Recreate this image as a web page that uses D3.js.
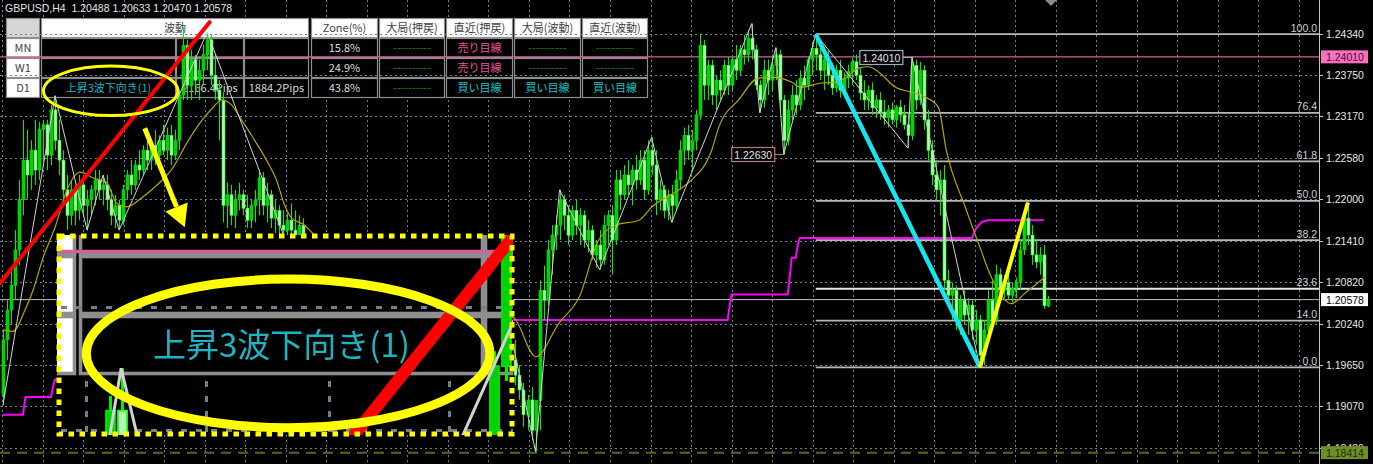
<!DOCTYPE html>
<html><head><meta charset="utf-8">
<script src="https://cdn.jsdelivr.net/npm/d3@7"></script>
<style>html,body{margin:0;padding:0;background:#000;overflow:hidden}</style>
</head><body>
<svg id="c" width="1373" height="464"></svg>
<script>
// ---------------- DATA ----------------
const symbol = "GBPUSD,H4";
// H4 candles [open, high, low, close]
const ohlc = [
[1.1923,1.2015,1.1909,1.2001],[1.2001,1.2057,1.1972,1.2043],[1.2043,1.2100,1.2022,1.2078],[1.2078,1.2156,1.2057,1.2128],
[1.2128,1.2227,1.2106,1.2199],[1.2199,1.2312,1.2177,1.2255],[1.2255,1.2298,1.2199,1.2234],[1.2234,1.2283,1.2213,1.2269],
[1.2269,1.2312,1.2220,1.2241],[1.2241,1.2309,1.2227,1.2298],[1.2298,1.2312,1.2255,1.2305],[1.2305,1.2312,1.2241,1.2262],
[1.2262,1.2333,1.2248,1.2326],[1.2326,1.2346,1.2269,1.2283],[1.2283,1.2312,1.2234,1.2255],[1.2255,1.2269,1.2199,1.2213],
[1.2213,1.2234,1.2156,1.2177],[1.2177,1.2227,1.2163,1.2213],[1.2213,1.2220,1.2163,1.2184],[1.2184,1.2234,1.2170,1.2220],
[1.2220,1.2227,1.2177,1.2191],[1.2191,1.2213,1.2156,1.2199],[1.2199,1.2220,1.2177,1.2213],[1.2213,1.2241,1.2191,1.2227],
[1.2227,1.2241,1.2199,1.2213],[1.2213,1.2234,1.2191,1.2220],[1.2220,1.2234,1.2184,1.2199],[1.2199,1.2213,1.2163,1.2177],
[1.2177,1.2206,1.2159,1.2191],[1.2191,1.2199,1.2156,1.2170],[1.2170,1.2220,1.2163,1.2213],[1.2213,1.2241,1.2199,1.2234],
[1.2234,1.2255,1.2206,1.2220],[1.2220,1.2255,1.2213,1.2248],[1.2248,1.2269,1.2227,1.2241],[1.2241,1.2276,1.2234,1.2269],
[1.2269,1.2283,1.2241,1.2255],[1.2255,1.2283,1.2241,1.2276],[1.2276,1.2298,1.2248,1.2262],[1.2262,1.2290,1.2255,1.2283],
[1.2283,1.2305,1.2262,1.2269],[1.2269,1.2301,1.2255,1.2290],[1.2290,1.2305,1.2248,1.2262],[1.2262,1.2298,1.2255,1.2283],
[1.2283,1.2354,1.2269,1.2347],[1.2347,1.2443,1.2340,1.2417],[1.2417,1.2425,1.2340,1.2361],[1.2361,1.2411,1.2340,1.2397],
[1.2397,1.2404,1.2347,1.2368],[1.2368,1.2397,1.2340,1.2382],[1.2382,1.2418,1.2361,1.2404],[1.2404,1.2436,1.2382,1.2425],
[1.2425,1.2432,1.2361,1.2375],[1.2375,1.2404,1.2340,1.2354],[1.2354,1.2368,1.2283,1.2340],[1.2340,1.2351,1.2167,1.2191],
[1.2191,1.2223,1.2159,1.2206],[1.2206,1.2220,1.2163,1.2177],[1.2177,1.2213,1.2159,1.2199],[1.2199,1.2223,1.2184,1.2206],
[1.2206,1.2213,1.2177,1.2187],[1.2187,1.2206,1.2159,1.2170],[1.2170,1.2199,1.2159,1.2191],[1.2191,1.2213,1.2167,1.2199],
[1.2199,1.2241,1.2177,1.2230],[1.2230,1.2238,1.2177,1.2191],[1.2191,1.2223,1.2167,1.2206],[1.2206,1.2213,1.2159,1.2173],
[1.2173,1.2199,1.2152,1.2184],[1.2184,1.2191,1.2149,1.2163],[1.2163,1.2184,1.2142,1.2156],[1.2156,1.2180,1.2135,1.2170],
[1.2170,1.2194,1.2142,1.2156],[1.2156,1.2184,1.2128,1.2142],[1.2142,1.2177,1.2121,1.2163],[1.2163,1.2173,1.2114,1.2128],
[1.2128,1.2142,1.2100,1.2111],[1.2111,1.2128,1.2085,1.2100],[1.2100,1.2121,1.2078,1.2114],[1.2114,1.2128,1.2093,1.2103],
[1.2103,1.2117,1.2071,1.2082],[1.2082,1.2107,1.2064,1.2096],[1.2096,1.2110,1.2071,1.2078],[1.2078,1.2100,1.2057,1.2093],
[1.2093,1.2107,1.2064,1.2071],[1.2071,1.2089,1.2050,1.2082],[1.2082,1.2096,1.2059,1.2068],[1.2068,1.2085,1.2043,1.2057],
[1.2057,1.2078,1.2040,1.2071],[1.2071,1.2082,1.2050,1.2060],[1.2060,1.2075,1.2036,1.2050],[1.2050,1.2071,1.2033,1.2064],
[1.2064,1.2078,1.2043,1.2057],[1.2057,1.2071,1.2029,1.2040],[1.2040,1.2060,1.2022,1.2050],[1.2050,1.2064,1.2033,1.2043],
[1.2043,1.2064,1.2026,1.2057],[1.2057,1.2071,1.2036,1.2045],[1.2045,1.2060,1.2022,1.2031],[1.2031,1.2054,1.2015,1.2045],
[1.2045,1.2057,1.2026,1.2036],[1.2036,1.2050,1.2015,1.2026],[1.2026,1.2043,1.2008,1.2036],[1.2036,1.2050,1.2019,1.2029],
[1.2029,1.2043,1.2008,1.2019],[1.2019,1.2036,1.2001,1.2029],[1.2029,1.2040,1.2012,1.2022],[1.2022,1.2036,1.2005,1.2033],
[1.2033,1.2047,1.2019,1.2040],[1.2040,1.2057,1.2022,1.2050],[1.2050,1.2064,1.2029,1.2036],[1.2036,1.2050,1.2015,1.2043],
[1.2043,1.2060,1.2026,1.2054],[1.2054,1.2064,1.2033,1.2040],[1.2040,1.2057,1.2022,1.2050],[1.2050,1.2062,1.2033,1.2057],
[1.2057,1.2068,1.2036,1.2043],[1.2043,1.2057,1.2022,1.2031],[1.2031,1.2050,1.2015,1.2040],[1.2040,1.2054,1.2022,1.2029],
[1.2029,1.2047,1.2012,1.2036],[1.2036,1.2050,1.2019,1.2026],[1.2026,1.2040,1.2008,1.2033],[1.2033,1.2043,1.2015,1.2022],
[1.2022,1.2036,1.1994,1.2001],[1.2001,1.2029,1.1979,1.2015],[1.2015,1.2032,1.1986,1.1994],[1.1994,1.2015,1.1958,1.1972],
[1.1972,1.2001,1.1937,1.1951],[1.1951,1.1965,1.1916,1.1930],[1.1930,1.1940,1.1878,1.1895],[1.1895,1.1923,1.1873,1.1916],
[1.1916,1.1934,1.1859,1.1873],[1.1873,1.1902,1.1843,1.1915],[1.1915,1.2085,1.1873,1.2071],[1.2071,1.2106,1.2029,1.2057],
[1.2057,1.2142,1.2050,1.2128],[1.2128,1.2163,1.2093,1.2149],[1.2149,1.2177,1.2128,1.2163],[1.2163,1.2213,1.2142,1.2199],
[1.2199,1.2206,1.2156,1.2177],[1.2177,1.2191,1.2135,1.2149],[1.2149,1.2191,1.2142,1.2184],[1.2184,1.2199,1.2149,1.2163],
[1.2163,1.2187,1.2135,1.2177],[1.2177,1.2184,1.2131,1.2142],[1.2142,1.2170,1.2125,1.2156],[1.2156,1.2163,1.2114,1.2121],
[1.2121,1.2142,1.2103,1.2135],[1.2135,1.2156,1.2100,1.2114],[1.2114,1.2177,1.2107,1.2163],[1.2163,1.2184,1.2135,1.2177],
[1.2177,1.2191,1.2093,1.2142],[1.2142,1.2241,1.2135,1.2227],[1.2227,1.2241,1.2184,1.2206],[1.2206,1.2248,1.2199,1.2234],
[1.2234,1.2255,1.2206,1.2220],[1.2220,1.2248,1.2191,1.2241],[1.2241,1.2262,1.2213,1.2227],[1.2227,1.2269,1.2220,1.2255],
[1.2255,1.2269,1.2199,1.2213],[1.2213,1.2283,1.2206,1.2269],[1.2269,1.2287,1.2234,1.2248],[1.2248,1.2269,1.2177,1.2199],
[1.2199,1.2227,1.2184,1.2213],[1.2213,1.2220,1.2173,1.2184],[1.2184,1.2213,1.2170,1.2206],[1.2206,1.2220,1.2167,1.2191],
[1.2191,1.2241,1.2184,1.2227],[1.2227,1.2283,1.2213,1.2269],[1.2269,1.2301,1.2248,1.2290],[1.2290,1.2305,1.2255,1.2269],
[1.2269,1.2298,1.2241,1.2283],[1.2283,1.2326,1.2269,1.2319],[1.2319,1.2434,1.2312,1.2417],[1.2417,1.2425,1.2340,1.2361],
[1.2361,1.2397,1.2340,1.2389],[1.2389,1.2397,1.2333,1.2347],[1.2347,1.2375,1.2326,1.2368],[1.2368,1.2382,1.2340,1.2354],
[1.2354,1.2397,1.2347,1.2389],[1.2389,1.2401,1.2347,1.2361],[1.2361,1.2401,1.2354,1.2397],[1.2397,1.2418,1.2368,1.2382],
[1.2382,1.2418,1.2375,1.2411],[1.2411,1.2432,1.2390,1.2404],[1.2404,1.2439,1.2394,1.2427],[1.2427,1.2448,1.2397,1.2411],
[1.2411,1.2418,1.2354,1.2361],[1.2361,1.2368,1.2322,1.2340],[1.2340,1.2397,1.2329,1.2382],[1.2382,1.2397,1.2347,1.2368],
[1.2368,1.2404,1.2354,1.2389],[1.2389,1.2414,1.2368,1.2404],[1.2404,1.2411,1.2326,1.2340],[1.2340,1.2347,1.2263,1.2283],
[1.2283,1.2340,1.2276,1.2326],[1.2326,1.2361,1.2312,1.2347],[1.2347,1.2368,1.2319,1.2333],[1.2333,1.2382,1.2326,1.2371],
[1.2371,1.2389,1.2340,1.2361],[1.2361,1.2401,1.2354,1.2397],[1.2397,1.2422,1.2375,1.2413],[1.2413,1.2433,1.2382,1.2404],
[1.2404,1.2418,1.2368,1.2382],[1.2382,1.2404,1.2354,1.2397],[1.2397,1.2411,1.2361,1.2375],[1.2375,1.2393,1.2347,1.2357],
[1.2357,1.2390,1.2351,1.2382],[1.2382,1.2397,1.2343,1.2354],[1.2354,1.2379,1.2347,1.2371],[1.2371,1.2390,1.2357,1.2380],
[1.2380,1.2400,1.2361,1.2394],[1.2394,1.2404,1.2368,1.2375],[1.2375,1.2385,1.2340,1.2350],[1.2350,1.2368,1.2326,1.2340],
[1.2340,1.2361,1.2326,1.2354],[1.2354,1.2365,1.2319,1.2329],[1.2329,1.2347,1.2315,1.2340],[1.2340,1.2351,1.2312,1.2323],
[1.2323,1.2340,1.2305,1.2315],[1.2315,1.2333,1.2301,1.2326],[1.2326,1.2337,1.2305,1.2312],[1.2312,1.2333,1.2301,1.2330],
[1.2330,1.2340,1.2308,1.2319],[1.2319,1.2333,1.2298,1.2305],[1.2305,1.2323,1.2272,1.2290],[1.2290,1.2401,1.2283,1.2389],
[1.2389,1.2397,1.2326,1.2340],[1.2340,1.2394,1.2333,1.2382],[1.2382,1.2389,1.2298,1.2312],[1.2312,1.2326,1.2255,1.2269],
[1.2269,1.2283,1.2220,1.2234],[1.2234,1.2255,1.2199,1.2213],[1.2213,1.2241,1.2177,1.2227],[1.2227,1.2248,1.2071,1.2085],
[1.2085,1.2100,1.2050,1.2064],[1.2064,1.2082,1.2029,1.2071],[1.2071,1.2078,1.2015,1.2029],[1.2029,1.2064,1.2008,1.2057],
[1.2057,1.2071,1.2022,1.2036],[1.2036,1.2060,1.2008,1.2050],[1.2050,1.2057,1.2001,1.2015],[1.2015,1.2043,1.1994,1.2029],
[1.2029,1.2036,1.1962,1.1979],[1.1979,1.2029,1.1965,1.2015],[1.2015,1.2071,1.2001,1.2057],[1.2057,1.2085,1.2015,1.2029],
[1.2029,1.2107,1.2022,1.2093],[1.2093,1.2102,1.2057,1.2071],[1.2071,1.2093,1.2060,1.2082],[1.2082,1.2100,1.2057,1.2064],
[1.2064,1.2082,1.2054,1.2074],[1.2074,1.2089,1.2060,1.2082],[1.2082,1.2142,1.2071,1.2128],[1.2128,1.2184,1.2121,1.2173],
[1.2173,1.2195,1.2135,1.2149],[1.2149,1.2163,1.2107,1.2121],[1.2121,1.2142,1.2102,1.2111],[1.2111,1.2132,1.2093,1.2121],
[1.2121,1.2135,1.2045,1.2049],[1.20488,1.20633,1.20470,1.20578]
];
// moving average [bar, price]
const maLine = [[0,1.2015],[2.5,1.2013],[5.5,1.2043],[7.5,1.2071],[10,1.2117],[13,1.2160],[16,1.2213],[19.2,1.2238],[22.4,1.2230],
[25.9,1.2223],[28.4,1.2194],[30.9,1.2189],[34.9,1.2203],[39.1,1.2223],[42.4,1.2244],[45.9,1.2279],[49.1,1.2307],[52.4,1.2329],
[54.6,1.2340],[57.1,1.2333],[59.1,1.2316],[62.3,1.2288],[65.8,1.2255],[68.3,1.2227],[70.3,1.2192],[72.1,1.2173],[75.3,1.2163],
[77.8,1.2149],[89,1.2107],[104,1.2071],[118.9,1.2050],[127.6,1.2032],[133.1,1.1977],[138.9,1.2025],[143.9,1.2061],[148.8,1.2142],
[153.1,1.2163],[158.8,1.2170],[162.1,1.2189],[168.8,1.2213],[172,1.2227],[177,1.2269],[178.8,1.2302],[183.7,1.2340],[188.7,1.2371],
[193,1.2372],[197,1.2365],[199.2,1.2358],[204.4,1.2364],[207.9,1.2365],[210.4,1.2371],[213.7,1.2385],[216.2,1.2387],[218.6,1.2380],
[222.9,1.2358],[226.9,1.2351],[230.4,1.2344],[233.6,1.2330],[235.6,1.2269],[240.3,1.2189],[243.6,1.2138],[246.8,1.2090],
[250.3,1.2057],[251.8,1.2052],[255.3,1.2067],[260.3,1.2090]];
// zigzag swing points [bar, price]
const zigzag = [[0,1.1909],[13,1.2346],[21,1.2156],[25,1.2234],[29,1.2156],[51,1.2436],[71,1.2135],[105,1.2001],[126,1.2032],
[133,1.1843],[139,1.2213],[149,1.2100],[162,1.2287],[167,1.2167],[187,1.2448],[189,1.2322],[193,1.2414],[195,1.2263],
[203,1.2433],[226,1.2272],[227,1.2401],[244,1.1962],[256,1.2195]];
// higher-timeframe step line (magenta) [bar, price]
const htfLine = [[0,1.1895],[5,1.1895],[5.3,1.1908],[5.6,1.1920],[12,1.1920],[12.5,1.1935],[13,1.1945],[40,1.1945],[41,1.1985],
[80,1.1985],[81,1.2010],[110,1.2010],[111,1.2029],[181,1.2029],[181.5,1.2050],[182,1.2065],[196,1.2065],[196.5,1.2090],[197,1.2117],
[198,1.2117],[198.5,1.2135],[199,1.2145],[242,1.2145],[243,1.2158],[244.5,1.2168],[246,1.2170],[260,1.2170]];
const priceTicks = [1.24340,1.23750,1.23170,1.22580,1.22000,1.21410,1.20820,1.20240,1.19650,1.19070,1.18480];
const fibHigh = [203, 1.2433], fibLow = [244, 1.1962];
const fibLevels = [100.0, 76.4, 61.8, 50.0, 38.2, 23.6, 14.0, 0.0];
const swingUp = [[244,1.1962],[256,1.2195]];
const hLevel = 1.24010, askLevel = 1.18414;
const priceLabels = [{bar:195, price:1.22630, color:"#b87a7a"}, {bar:227, price:1.24010, color:"#9aaec4"}];
const redTrend = [[-0.75,1.2081],[51.6,1.2450]];
const ellipseAnn = {bar:26.9, price:1.2353, rBars:16.8, rPrice:0.0035};
const arrowAnn = [[35.4,1.2300],[45.4,1.2160]];
// table
const tfRows = ["MN","W1","D1"];
const tableHeaders = ["波動","Zone(%)","大局(押戻)","直近(押戻)","大局(波動)","直近(波動)"];
const waveState = ["","","上昇3波下向き(1)"];
const wavePipsA = ["","","2166.4Pips"];
const wavePipsB = ["","","1884.2Pips"];
const zonePct = [15.8,24.9,43.8];
const bigPull = ["----------","----------","----------"];
const recentPull = ["売り目線","売り目線","買い目線"];
const bigWave = ["----------","----------","買い目線"];
const recentWave = ["----------","----------","買い目線"];

// ---------------- CHART ----------------
const W = 1373, H = 464, plotR = 1319;
const svg = d3.select("#c");
const x = d3.scaleLinear().domain([0, ohlc.length - 1]).range([3, 1048]);
const y = d3.scaleLinear().domain([1.1848, 1.2434]).range([448, 33.5]);
const LAT = "'Liberation Sans', Arial, sans-serif";
const JP = "'Noto Sans CJK JP', sans-serif";

const defs = svg.append("defs");
defs.append("filter").attr("id", "soft").attr("x", 0).attr("y", 0).attr("width", 1).attr("height", 1)
  .append("feGaussianBlur").attr("stdDeviation", 0.55);

const base = svg.append("g").attr("id", "base");
base.append("rect").attr("width", W).attr("height", H).attr("fill", "#000");

// vertical grid (behind table)
const gridBars = d3.range(0, 33).map(k => -0.15 + k * 10.117);
base.append("g").selectAll("line").data(gridBars).join("line")
  .attr("x1", d => Math.round(x(d)) + 0.5).attr("x2", d => Math.round(x(d)) + 0.5)
  .attr("y1", 0).attr("y2", H).attr("stroke", "#6f8091").attr("stroke-dasharray", "2,3");

// table
const tbl = base.append("g");
const rowTop = [18, 38, 58, 78], rowH = 19;
const cols = {lab:[6,33], w1:[41,134], w2:[176,67], w3:[244,64], zone:[311,66], bp:[379,65], rp:[446,66], bw:[514,66], rw:[582,65]};
function cell(c, top, fill, txt, color, fs) {
  tbl.append("rect").attr("x", c[0] + 0.5).attr("y", top + 0.5).attr("width", c[1]).attr("height", rowH)
    .attr("fill", fill).attr("stroke", "#8e8e8e").attr("stroke-width", 1.2);
  if (txt) tbl.append("text").attr("x", c[0] + c[1] / 2 + 0.5).attr("y", top + rowH / 2 + 4.5)
    .attr("text-anchor", "middle").attr("font-family", JP).attr("font-size", fs || 11).attr("fill", color).text(txt);
}
const viewColor = t => t === "売り目線" ? "#ee529e" : t === "買い目線" ? "#1cc1c8" : "#008a00";
cell(cols.lab, rowTop[0], "#d6d6d6", "", "");
cell([41, 267], rowTop[0], "#fff", tableHeaders[0], "#404040");
["zone","bp","rp","bw","rw"].forEach((k, i) => cell(cols[k], rowTop[0], "#fff", tableHeaders[i + 1], "#404040"));
tfRows.forEach((tf, r) => {
  const t = rowTop[r + 1];
  cell(cols.lab, t, "#fff", tf, "#404040");
  cell(cols.w1, t, "#000", waveState[r], "#1fb5c4");
  cell(cols.w2, t, "#000", wavePipsA[r], "#d6d6d6");
  cell(cols.w3, t, "#000", wavePipsB[r], "#d6d6d6");
  cell(cols.zone, t, "#000", zonePct[r].toFixed(1) + "%", "#dcdcdc");
  cell(cols.bp, t, "#000", bigPull[r], viewColor(bigPull[r]));
  cell(cols.rp, t, "#000", recentPull[r], viewColor(recentPull[r]));
  cell(cols.bw, t, "#000", bigWave[r], viewColor(bigWave[r]));
  cell(cols.rw, t, "#000", recentWave[r], viewColor(recentWave[r]));
});

// horizontal grid
base.append("g").selectAll("line").data(priceTicks).join("line")
  .attr("x1", 0).attr("x2", plotR).attr("y1", d => Math.round(y(d)) + 0.5).attr("y2", d => Math.round(y(d)) + 0.5)
  .attr("stroke", "#6f8091").attr("stroke-dasharray", "2,3");

// level lines
const last = ohlc[ohlc.length - 1];
base.append("line").attr("x1", 0).attr("x2", plotR).attr("y1", y(hLevel)).attr("y2", y(hLevel)).attr("stroke", "#d2609c").attr("stroke-width", 1.2);
base.append("line").attr("x1", 0).attr("x2", plotR).attr("y1", y(last[3])).attr("y2", y(last[3])).attr("stroke", "#bdbdbd").attr("stroke-width", 1);
base.append("line").attr("x1", 0).attr("x2", plotR).attr("y1", y(askLevel)).attr("y2", y(askLevel)).attr("stroke", "#4e6b1e").attr("stroke-width", 2).attr("stroke-dasharray", "10,7");

// fibonacci
const fibPrice = l => fibLow[1] + (fibHigh[1] - fibLow[1]) * l / 100;
const fg = base.append("g");
fg.selectAll("line").data(fibLevels).join("line")
  .attr("x1", x(fibHigh[0])).attr("x2", plotR).attr("y1", d => y(fibPrice(d))).attr("y2", d => y(fibPrice(d)))
  .attr("stroke", d => d === 23.6 ? "#e8e8e8" : "#b8b8b8").attr("stroke-width", 1.8);
fg.selectAll("text").data(fibLevels).join("text")
  .attr("x", plotR - 2).attr("y", d => y(fibPrice(d)) - 2.5).attr("text-anchor", "end")
  .attr("font-family", LAT).attr("font-size", 10.5).attr("fill", "#d0d0d0").text(d => d.toFixed(1));

// magenta step line
const lineGen = d3.line().x(d => x(d[0])).y(d => y(d[1]));
base.append("path").attr("d", lineGen(htfLine)).attr("fill", "none").attr("stroke", "#ff00ff").attr("stroke-width", 2);

// candles
const cg = base.append("g");
cg.selectAll("line").data(ohlc).join("line")
  .attr("x1", (d, i) => Math.round(x(i)) + 0.5).attr("x2", (d, i) => Math.round(x(i)) + 0.5)
  .attr("y1", d => y(d[1])).attr("y2", d => y(d[2])).attr("stroke", "#00f000").attr("stroke-width", 1);
cg.selectAll("rect").data(ohlc).join("rect")
  .attr("x", (d, i) => Math.round(x(i)) - 1).attr("width", 3)
  .attr("y", d => y(Math.max(d[0], d[3])))
  .attr("height", d => Math.max(1, y(Math.min(d[0], d[3])) - y(Math.max(d[0], d[3]))))
  .attr("fill", d => d[3] >= d[0] ? "#00d200" : "#b2f5b2")
  .attr("stroke", d => d[3] >= d[0] ? "#00e400" : "#22ff22").attr("stroke-width", 0.6);

// MA & zigzag
base.append("path").attr("d", d3.line().curve(d3.curveMonotoneX).x(d => x(d[0])).y(d => y(d[1]))(maLine))
  .attr("fill", "none").attr("stroke", "#b4a600").attr("stroke-width", 1.2);
base.append("path").attr("d", lineGen(zigzag)).attr("fill", "none").attr("stroke", "#d2d2d2").attr("stroke-width", 1);

// wave lines
base.append("path").attr("d", lineGen([fibHigh, fibLow])).attr("stroke", "#14e6f2").attr("stroke-width", 4.5).attr("fill", "none");
base.append("path").attr("d", lineGen(swingUp)).attr("stroke", "#ffff00").attr("stroke-width", 4).attr("fill", "none");

// price labels in chart
priceLabels.forEach(p => {
  const px = x(p.bar), py = Math.round(y(p.price)) + 0.5, right = px - 9, left = right - 43;
  base.append("line").attr("x1", right).attr("x2", px).attr("y1", py).attr("y2", py).attr("stroke", p.color);
  base.append("rect").attr("x", left).attr("y", py - 7).attr("width", 43).attr("height", 14).attr("fill", "#000").attr("stroke", p.color).attr("stroke-width", 1.2);
  base.append("text").attr("x", left + 21.5).attr("y", py + 4).attr("text-anchor", "middle").attr("font-family", LAT)
    .attr("font-size", 10.5).attr("fill", "#e4e4e4").text(p.price.toFixed(5));
});

// title
base.append("text").attr("x", 5).attr("y", 12).attr("font-family", LAT).attr("font-size", 10.5).attr("fill", "#e6e6e6")
  .style("white-space", "pre").text(symbol + "  " + last.map(v => v.toFixed(5)).join(" "));

// right axis
const ax = base.append("g");
ax.append("line").attr("x1", plotR + 0.5).attr("x2", plotR + 0.5).attr("y1", 0).attr("y2", H).attr("stroke", "#c4c4c4");
ax.selectAll("line.t").data(priceTicks).join("line").attr("class", "t")
  .attr("x1", plotR).attr("x2", plotR + 4).attr("y1", d => Math.round(y(d)) + 0.5).attr("y2", d => Math.round(y(d)) + 0.5).attr("stroke", "#c4c4c4");
ax.selectAll("text").data(priceTicks).join("text")
  .attr("x", plotR + 7).attr("y", d => y(d) + 4).attr("font-family", LAT).attr("font-size", 10.5).attr("fill", "#e6e6e6")
  .text(d => d.toFixed(5));
[[hLevel, "#ff6fbf", "#3a1030"], [last[3], "#ffffff", "#000"], [askLevel, "#6e8f24", "#1c2a08"]].forEach(([v, bg, fc]) => {
  const py = y(v);
  ax.append("rect").attr("x", plotR + 2).attr("y", py - 6.5).attr("width", 47).attr("height", 13).attr("fill", bg);
  ax.append("text").attr("x", plotR + 7).attr("y", py + 4).attr("font-family", LAT).attr("font-size", 10.5).attr("fill", fc).text(v.toFixed(5));
});

// annotations drawn on the screenshot
base.append("path").attr("d", lineGen(redTrend)).attr("stroke", "#ff0000").attr("stroke-width", 4).attr("stroke-linecap", "round");
base.append("ellipse").attr("cx", x(ellipseAnn.bar)).attr("cy", y(ellipseAnn.price))
  .attr("rx", x(ellipseAnn.bar + ellipseAnn.rBars) - x(ellipseAnn.bar)).attr("ry", y(ellipseAnn.price - ellipseAnn.rPrice) - y(ellipseAnn.price))
  .attr("fill", "none").attr("stroke", "#ffff00").attr("stroke-width", 3);

// chart shift marker
const sx = x(ohlc.length - 1) + 3;
base.append("path").attr("d", `M${sx - 6},0L${sx + 6},0L${sx},6Z`).attr("fill", "#8a8a8a");

// ---------------- INSET (3x magnification of the D1 wave cell) ----------------
const inset = {x0: 57, y0: 235, x1: 513, y1: 435, k: 3, tx: -44, ty: 81};
svg.append("clipPath").attr("id", "insClip").append("rect")
  .attr("x", inset.x0).attr("y", inset.y0).attr("width", inset.x1 - inset.x0).attr("height", inset.y1 - inset.y0);
svg.append("g").attr("clip-path", "url(#insClip)")
  .append("g").attr("filter", "url(#soft)")
  .append("use").attr("href", "#base").attr("transform", `translate(${inset.tx},${inset.ty}) scale(${inset.k})`);
svg.append("rect").attr("x", inset.x0 + 2).attr("y", inset.y0 + 1).attr("width", inset.x1 - inset.x0 - 3).attr("height", inset.y1 - inset.y0 - 2)
  .attr("fill", "none").attr("stroke", "#ffff00").attr("stroke-width", 5).attr("stroke-dasharray", "5.5,5.5");

// arrow
const a0 = [x(arrowAnn[0][0]), y(arrowAnn[0][1])], a1 = [x(arrowAnn[1][0]), y(arrowAnn[1][1])];
const dx = a1[0] - a0[0], dy = a1[1] - a0[1], len = Math.hypot(dx, dy), ux = dx / len, uy = dy / len;
const hb = [a1[0] - 22 * ux, a1[1] - 22 * uy];
svg.append("line").attr("x1", a0[0]).attr("y1", a0[1]).attr("x2", hb[0]).attr("y2", hb[1]).attr("stroke", "#ffff00").attr("stroke-width", 5);
svg.append("path").attr("d", `M${a1[0]},${a1[1]}L${hb[0] - 12 * uy},${hb[1] + 12 * ux}L${hb[0] + 12 * uy},${hb[1] - 12 * ux}Z`).attr("fill", "#ffff00");
</script>
</body></html>
